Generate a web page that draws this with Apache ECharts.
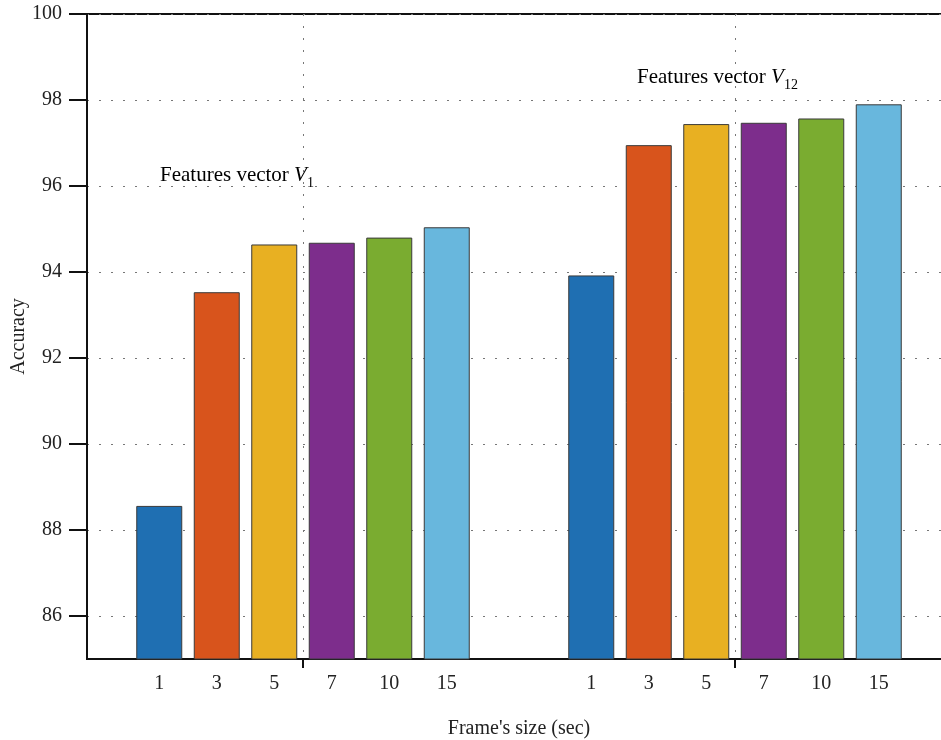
<!DOCTYPE html>
<html>
<head>
<meta charset="utf-8">
<script src="https://cdn.jsdelivr.net/npm/echarts@6/dist/echarts.min.js"></script>
<style>html,body{margin:0;padding:0;background:#fff;}#c{width:941px;height:740px;}</style>
</head>
<body>
<div id="c"></div>
<script>
// ---- data ----
const groups = ['V1', 'V12'];
const frameSizes = ['1', '3', '5', '7', '10', '15'];
const accV1  = [88.56, 93.53, 94.64, 94.68, 94.80, 95.04];
const accV12 = [93.92, 96.95, 97.44, 97.47, 97.57, 97.90];
const yTicks = [86, 88, 90, 92, 94, 96, 98, 100];
const gridSlots = ['0.5', '1', '1.5', '2', '2.5'];
const colors = ['#1F6FB2', '#D8541C', '#E8B022', '#7D2D8C', '#7AAC30', '#68B7DD'];

const FONT = '"Liberation Serif", "DejaVu Serif", serif';
const dotted = { color: '#777', width: 1, type: [2, 10] };
const isGroupCenter = (i) => i === 1 || i === 3;

const series = frameSizes.map((fs, i) => ({
  name: fs,
  type: 'bar',
  xAxisIndex: 0,
  yAxisIndex: 0,
  barWidth: 46,
  barGap: '25%',
  data: [accV1[i], accV12[i]],
  itemStyle: { color: colors[i], borderColor: '#3a3a3a', borderWidth: 1 },
  label: {
    show: true, position: 'bottom', distance: 14,
    formatter: fs, fontFamily: FONT, fontSize: 20, color: '#222'
  },
  emphasis: { disabled: true }
}));

const rich = {
  a: { fontFamily: FONT, fontSize: 21, color: '#222', lineHeight: 30, verticalAlign: 'middle' },
  v: { fontFamily: FONT, fontSize: 21, fontStyle: 'italic', color: '#222', lineHeight: 30, verticalAlign: 'middle' },
  s: { fontFamily: FONT, fontSize: 14, color: '#222', lineHeight: 14, verticalAlign: 'bottom' }
};

const chart = echarts.init(document.getElementById('c'), null, { renderer: 'canvas' });
chart.setOption({
  animation: false,
  backgroundColor: '#fff',
  grid: {
    left: 87, top: 14, right: -10, bottom: 81,
    containLabel: false, outerBoundsMode: 'none',
    show: true, borderColor: '#111', borderWidth: 2, backgroundColor: 'transparent'
  },
  xAxis: [
    {
      type: 'category', data: groups, position: 'bottom',
      axisLine: { show: true, lineStyle: { color: '#111', width: 2 } },
      axisTick: { show: false }, axisLabel: { show: false }, splitLine: { show: false },
      name: "Frame's size (sec)", nameLocation: 'middle', nameGap: 60, nameMoveOverlap: false,
      nameTextStyle: { fontFamily: FONT, fontSize: 20, color: '#222' }
    },
    {
      type: 'category', data: gridSlots, boundaryGap: false, position: 'bottom',
      axisLine: { show: false },
      axisTick: { show: true, interval: isGroupCenter, length: 9, lineStyle: { color: '#111', width: 2 } },
      axisLabel: { show: false },
      splitLine: { show: true, interval: isGroupCenter, lineStyle: dotted }
    }
  ],
  yAxis: {
    type: 'value', min: 85, max: 100,
    axisLine: { show: true, lineStyle: { color: '#111', width: 2 } },
    axisTick: { show: true, length: 18, customValues: yTicks, lineStyle: { color: '#111', width: 2 } },
    axisLabel: { customValues: yTicks, margin: 25, fontFamily: FONT, fontSize: 20, color: '#222' },
    splitLine: { show: true, lineStyle: dotted },
    name: 'Accuracy', nameLocation: 'middle', nameGap: 58, nameMoveOverlap: false,
    nameTextStyle: { fontFamily: FONT, fontSize: 20, color: '#222' }
  },
  graphic: [
    { type: 'text', x: 160, y: 160, z: 10,
      style: { text: '{a|Features vector }{v|V}{s|1}', rich: rich, verticalAlign: 'top' } },
    { type: 'text', x: 637, y: 62, z: 10,
      style: { text: '{a|Features vector }{v|V}{s|12}', rich: rich, verticalAlign: 'top' } }
  ],
  series: series
});
</script>
</body>
</html>
